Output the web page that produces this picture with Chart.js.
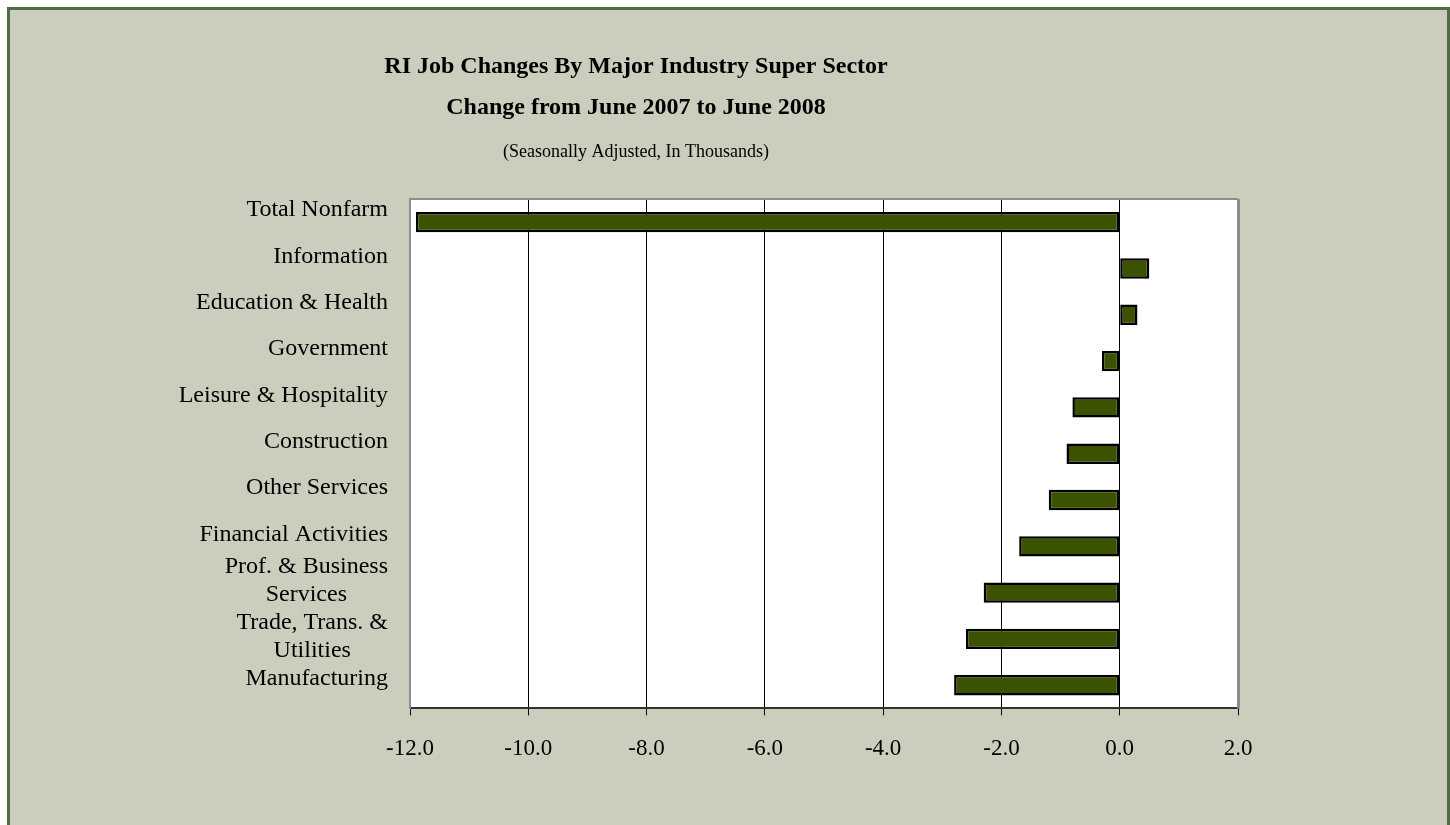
<!DOCTYPE html>
<html>
<head>
<meta charset="utf-8">
<script src="https://cdn.jsdelivr.net/npm/chart.js@4/dist/chart.umd.min.js"></script>
<style>
  html, body { margin: 0; padding: 0; background: #fff; }
  #frame {
    position: absolute; left: 7px; top: 7px;
    width: 1437px; height: 830px;
    background: #cbcebd;
    border: 3px solid #4e7040;
  }
  #chart { position: absolute; left: 0; top: 0; }
</style>
</head>
<body>
<div id="frame"></div>
<canvas id="chart" width="1450" height="825"></canvas>
<script>
const sectors = [
  'Total Nonfarm', 'Information', 'Education & Health', 'Government',
  'Leisure & Hospitality', 'Construction', 'Other Services',
  'Financial Activities', ['Prof. & Business', 'Services'],
  ['Trade, Trans. &', 'Utilities'], 'Manufacturing'
];
const changes = [-11.9, 0.5, 0.3, -0.3, -0.8, -0.9, -1.2, -1.7, -2.3, -2.6, -2.8];
const xMin = -12, xMax = 2, xStep = 2;

const SERIF = "'Liberation Serif', 'Times New Roman', serif";

// white plot area + grey top/right edge
const plotBox = {
  id: 'plotBox',
  beforeDraw(chart) {
    const { ctx, chartArea: a } = chart;
    ctx.save();
    ctx.fillStyle = '#fff';
    ctx.fillRect(a.left, a.top, a.right - a.left, a.bottom - a.top);
    ctx.restore();
  },
  afterDatasetsDraw(chart) {
    const { ctx, chartArea: a } = chart;
    ctx.save();
    ctx.strokeStyle = '#8c8c8c';
    ctx.lineWidth = 2;
    ctx.beginPath();
    ctx.moveTo(a.left, a.top);
    ctx.lineTo(a.right, a.top);
    ctx.stroke();
    ctx.lineWidth = 3;
    ctx.beginPath();
    ctx.moveTo(a.right + 0.5, a.top);
    ctx.lineTo(a.right + 0.5, a.bottom);
    ctx.stroke();
    ctx.restore();
  }
};

// category labels: block right-aligned, lines centred inside the block.
// Labels sit a bit above their bar and get pushed down if they would
// run into the label above.
const catLabels = {
  id: 'catLabels',
  afterDraw(chart) {
    const { ctx, chartArea: a } = chart;
    const y = chart.scales.y;
    const lineH = 28;
    const lift = 12;
    let prevBottom = -Infinity;
    ctx.save();
    ctx.font = '24px ' + SERIF;
    ctx.fillStyle = '#000';
    ctx.textAlign = 'center';
    ctx.textBaseline = 'middle';
    sectors.forEach((lab, i) => {
      const lines = Array.isArray(lab) ? lab : [lab];
      const half = lines.length * lineH / 2;
      const w = Math.max(...lines.map(l => ctx.measureText(l).width));
      const cx = a.left - 22 - w / 2;
      let cy = y.getPixelForValue(i) - lift;
      if (cy - half < prevBottom) cy = prevBottom + half;
      prevBottom = cy + half;
      lines.forEach((l, j) => {
        ctx.fillText(l, cx, cy + (j - (lines.length - 1) / 2) * lineH);
      });
    });
    ctx.restore();
  }
};

new Chart(document.getElementById('chart'), {
  type: 'bar',
  data: {
    labels: sectors,
    datasets: [{
      data: changes,
      backgroundColor: '#3b5300',
      borderColor: '#000',
      borderWidth: 2.5,
      borderSkipped: false,
      barPercentage: 0.44,
      categoryPercentage: 1
    }]
  },
  options: {
    indexAxis: 'y',
    responsive: false,
    animation: false,
    layout: { padding: { left: 34, right: 212, top: 0, bottom: 42 } },
    plugins: {
      legend: { display: false },
      tooltip: { enabled: false },
      title: {
        display: true,
        text: ['RI Job Changes By Major Industry Super Sector', 'Change from June 2007 to June 2008'],
        color: '#000',
        font: { family: SERIF, size: 24, weight: 'bold', lineHeight: 41 / 24 },
        padding: { top: 46, bottom: 0 }
      },
      subtitle: {
        display: true,
        text: '(Seasonally Adjusted, In Thousands)',
        color: '#000',
        font: { family: SERIF, size: 18, lineHeight: 24 / 18 },
        padding: { top: 12, bottom: 35 }
      }
    },
    scales: {
      x: {
        min: xMin,
        max: xMax,
        ticks: {
          stepSize: xStep,
          color: '#000',
          padding: 20,
          font: { family: SERIF, size: 23 },
          callback: v => v.toFixed(1)
        },
        grid: {
          color: ctx => (ctx.tick && ctx.tick.value === xMin) ? '#8c8c8c' : '#000',
          tickColor: '#000',
          lineWidth: 1,
          tickLength: 7
        },
        border: { color: '#333', width: 2 }
      },
      y: {
        afterFit: s => { s.width = 376; },
        ticks: { display: false },
        grid: { display: false, drawTicks: false },
        border: { color: '#8c8c8c', width: 2 }
      }
    }
  },
  plugins: [plotBox, catLabels]
});
</script>
</body>
</html>
